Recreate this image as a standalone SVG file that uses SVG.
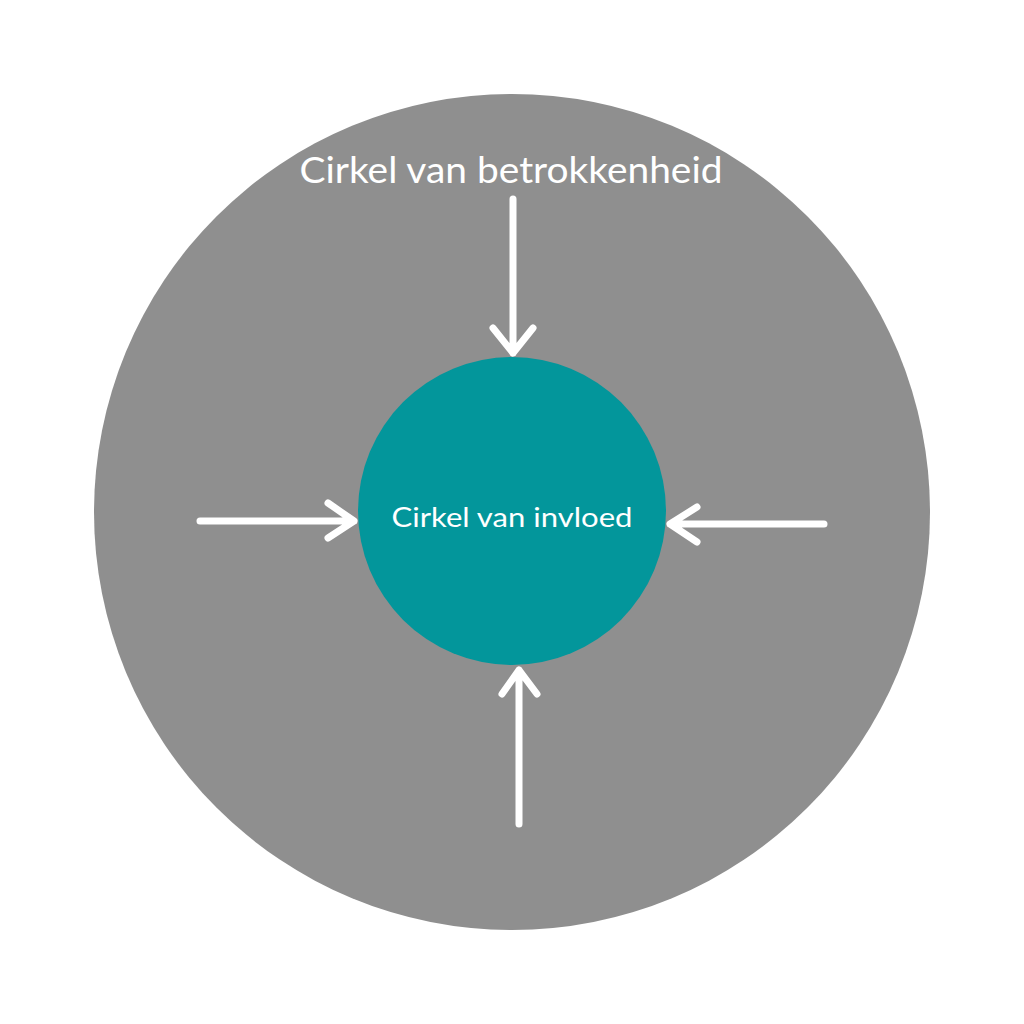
<svg xmlns="http://www.w3.org/2000/svg" width="1024" height="1024" viewBox="0 0 1024 1024">
<style>
.arrow{fill:none;stroke:#ffffff;stroke-width:7;stroke-linecap:round;stroke-linejoin:round}
.lbl{fill:#ffffff;font-family:Lato,"Noto Sans","Liberation Sans",sans-serif}
</style>
<rect width="1024" height="1024" fill="#ffffff"/>
<g id="outer">
<circle cx="512" cy="512" r="418" fill="#8f8f8f"/>
<text class="lbl" x="511" y="183" font-size="37" text-anchor="middle" textLength="423" lengthAdjust="spacingAndGlyphs">Cirkel van betrokkenheid</text>
</g>
<g id="inner">
<circle cx="512" cy="511" r="154" fill="#03969b"/>
<text class="lbl" x="512" y="527" font-size="26" text-anchor="middle" textLength="241" lengthAdjust="spacingAndGlyphs">Cirkel van invloed</text>
</g>
<g id="connectors">
<path class="arrow" d="M513 199 V353 M493 328 L513 353 L533 328"/>
<path class="arrow" d="M200 521 H354 M328 503 L354 521 L328 538"/>
<path class="arrow" d="M824 524 H670 M697 507 L670 524 L697 542"/>
<path class="arrow" d="M519 824 V670 M502 694 L519 670 L537 694"/>
</g>
</svg>
